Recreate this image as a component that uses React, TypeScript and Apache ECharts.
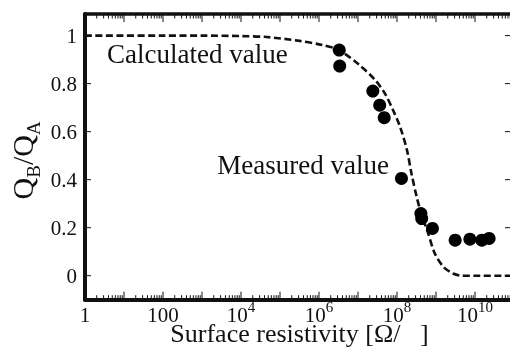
import React, { useEffect, useRef } from "react";
import * as echarts from "echarts";

// Calculated curve (surface resistivity in Ω/□, ratio Q_B/Q_A)
const calcR = [1, 1e2, 1e3, 1e4, 4.6e4, 3.2e5, 1.2e6, 3.2e6, 1.1e7, 2.75e7, 4.9e7, 7.9e7, 1.2e8, 1.8e8, 2.35e8, 3.2e8, 4.2e8, 6.3e8, 9.3e8, 1.55e9, 2.75e9, 4.6e9, 1e10, 1e11];
const calcQ = [1.0, 1.0, 1.0, 0.998, 0.994, 0.978, 0.961, 0.94, 0.877, 0.815, 0.759, 0.69, 0.62, 0.523, 0.426, 0.328, 0.259, 0.176, 0.093, 0.037, 0.009, 0.0, 0.0, 0.0];

// Measured values
const measR = [3.3e6, 3.4e6, 2.4e7, 3.6e7, 4.7e7, 1.3e8, 4.1e8, 4.3e8, 8.1e8, 3.1e9, 7.4e9, 1.5e10, 2.3e10];
const measQ = [0.94, 0.873, 0.769, 0.71, 0.658, 0.405, 0.259, 0.238, 0.197, 0.148, 0.152, 0.148, 0.155];

// Axis ticks / labels
const xDecades = [1, 1e1, 1e2, 1e3, 1e4, 1e5, 1e6, 1e7, 1e8, 1e9, 1e10, 1e11];
const xMinorMultipliers = [2, 3, 4, 5, 6, 7, 8, 9];
const xLabelValues = [1, 100, 1e4, 1e6, 1e8, 1e10];
const yTickValues = [0, 0.2, 0.4, 0.6, 0.8, 1];

const X_MIN = 1;
const X_MAX = 1e11;
const Y_MIN = -0.1;
const Y_MAX = 1.09;

const FONT = "Liberation Serif";
const INK = "#111";

export default function App() {
  const ref = useRef<HTMLDivElement>(null);

  useEffect(() => {
    if (!ref.current) return;
    const chart = echarts.init(ref.current, null, { renderer: "svg" });

    const xTickVals: number[] = [];
    xDecades.forEach((d, i) => {
      xTickVals.push(d);
      if (i < xDecades.length - 1) xMinorMultipliers.forEach((m) => xTickVals.push(d * m));
    });

    const xFormatter = (v: number) => {
      const e = Math.round(Math.log10(v));
      if (e === 0) return "{b|1}";
      if (e === 2) return "{b|100}";
      return `{b|10}{s|${e}}`;
    };

    const tickLine = (x1: number, y1: number, x2: number, y2: number) => ({
      type: "line",
      shape: { x1, y1, x2, y2 },
      style: { stroke: INK, lineWidth: 1 },
    });

    const option: any = {
      animation: false,
      grid: { left: 85, right: -4, top: 14, bottom: 54.3, outerBoundsMode: "none", containLabel: false },
      xAxis: [
        {
          type: "log",
          logBase: 10,
          min: X_MIN,
          max: X_MAX,
          position: "bottom",
          splitLine: { show: false },
          axisLine: { show: true, onZero: false, lineStyle: { color: INK, width: 4 } },
          axisTick: { show: false },
          minorTick: { show: false },
          axisLabel: {
            show: true,
            customValues: xLabelValues,
            margin: 5,
            formatter: xFormatter,
            rich: {
              b: { fontSize: 21, fontFamily: FONT, color: INK, lineHeight: 21, height: 21, verticalAlign: "bottom" },
              s: { fontSize: 15, fontFamily: FONT, color: INK, lineHeight: 4, height: 4, verticalAlign: "top" },
            },
          },
          name: "Surface resistivity [Ω/\u00a0\u00a0\u00a0]",
          nameLocation: "middle",
          nameGap: 23,
          nameMoveOverlap: false,
          nameTextStyle: { fontSize: 26, lineHeight: 22, fontFamily: FONT, color: INK },
        },
        {
          type: "log",
          logBase: 10,
          min: X_MIN,
          max: X_MAX,
          position: "top",
          splitLine: { show: false },
          axisLine: { show: true, onZero: false, lineStyle: { color: INK, width: 3.5 } },
          axisTick: { show: false },
          minorTick: { show: false },
          axisLabel: { show: false },
        },
      ],
      yAxis: [
        {
          type: "value",
          position: "left",
          min: Y_MIN,
          max: Y_MAX,
          splitLine: { show: false },
          axisLine: { show: true, onZero: false, lineStyle: { color: INK, width: 4 } },
          axisTick: { show: false },
          axisLabel: {
            show: true,
            customValues: yTickValues,
            margin: 8,
            fontSize: 21,
            fontFamily: FONT,
            color: INK,
            formatter: (v: number) => String(Math.round(v * 10) / 10),
          },
          name: "{q|Q}{s|B}{q|/Q}{s|A}",
          nameLocation: "middle",
          nameRotate: 90,
          nameGap: 42,
          nameMoveOverlap: false,
          nameTextStyle: {
            padding: [0, 7, 0, 0],
            rich: {
              q: { fontSize: 30, fontFamily: FONT, color: INK, lineHeight: 36, verticalAlign: "top" },
              s: { fontSize: 19, fontFamily: FONT, color: INK, lineHeight: 19, verticalAlign: "bottom" },
            },
          },
        },
        {
          type: "value",
          position: "right",
          min: Y_MIN,
          max: Y_MAX,
          splitLine: { show: false },
          axisLine: { show: true, onZero: false, lineStyle: { color: INK, width: 4 } },
          axisTick: { show: false },
          axisLabel: { show: false },
        },
      ],
      series: [
        {
          type: "custom",
          name: "xTicks",
          silent: true,
          xAxisIndex: 0,
          yAxisIndex: 0,
          encode: { x: 0, y: 1 },
          data: xTickVals.map((v) => [v, Y_MIN]),
          renderItem: (params: any, api: any) => {
            const v = api.value(0);
            const lg = Math.log10(v);
            const major = Math.abs(lg - Math.round(lg)) < 1e-6;
            const len = major ? 8 : 4.5;
            const pb = api.coord([v, Y_MIN]);
            const pt = api.coord([v, Y_MAX]);
            return {
              type: "group",
              children: [tickLine(pb[0], pb[1], pb[0], pb[1] - len), tickLine(pt[0], pt[1], pt[0], pt[1] + len)],
            };
          },
          z: 1,
        },
        {
          type: "custom",
          name: "yTicks",
          silent: true,
          xAxisIndex: 0,
          yAxisIndex: 0,
          encode: { x: 0, y: 1 },
          data: yTickValues.map((v) => [X_MIN, v]),
          renderItem: (params: any, api: any) => {
            const v = api.value(1);
            const pl = api.coord([X_MIN, v]);
            const pr = api.coord([X_MAX, v]);
            return {
              type: "group",
              children: [tickLine(pl[0], pl[1], pl[0] + 6, pl[1]), tickLine(pr[0], pr[1], pr[0] - 9, pr[1])],
            };
          },
          z: 1,
        },
        {
          type: "line",
          name: "Calculated value",
          xAxisIndex: 0,
          yAxisIndex: 0,
          data: calcR.map((r, i) => [r, calcQ[i]]),
          showSymbol: false,
          smooth: 0.3,
          lineStyle: { color: INK, width: 2.6, type: [7, 3.5] },
          z: 2,
        },
        {
          type: "scatter",
          name: "Measured value",
          xAxisIndex: 0,
          yAxisIndex: 0,
          data: measR.map((r, i) => [r, measQ[i]]),
          symbolSize: 13,
          itemStyle: { color: "#000", opacity: 1 },
          z: 3,
        },
      ],
      graphic: [
        {
          type: "text",
          left: 107,
          top: 40,
          style: { text: "Calculated value", fontSize: 27, fontFamily: FONT, fill: INK },
        },
        {
          type: "text",
          right: 121,
          top: 151,
          style: { text: "Measured value", fontSize: 27, fontFamily: FONT, fill: INK },
        },
      ],
    };

    chart.setOption(option);
    return () => chart.dispose();
  }, []);

  return <div ref={ref} style={{ position: "fixed", left: 0, top: 0, width: 510, height: 354 }} />;
}
